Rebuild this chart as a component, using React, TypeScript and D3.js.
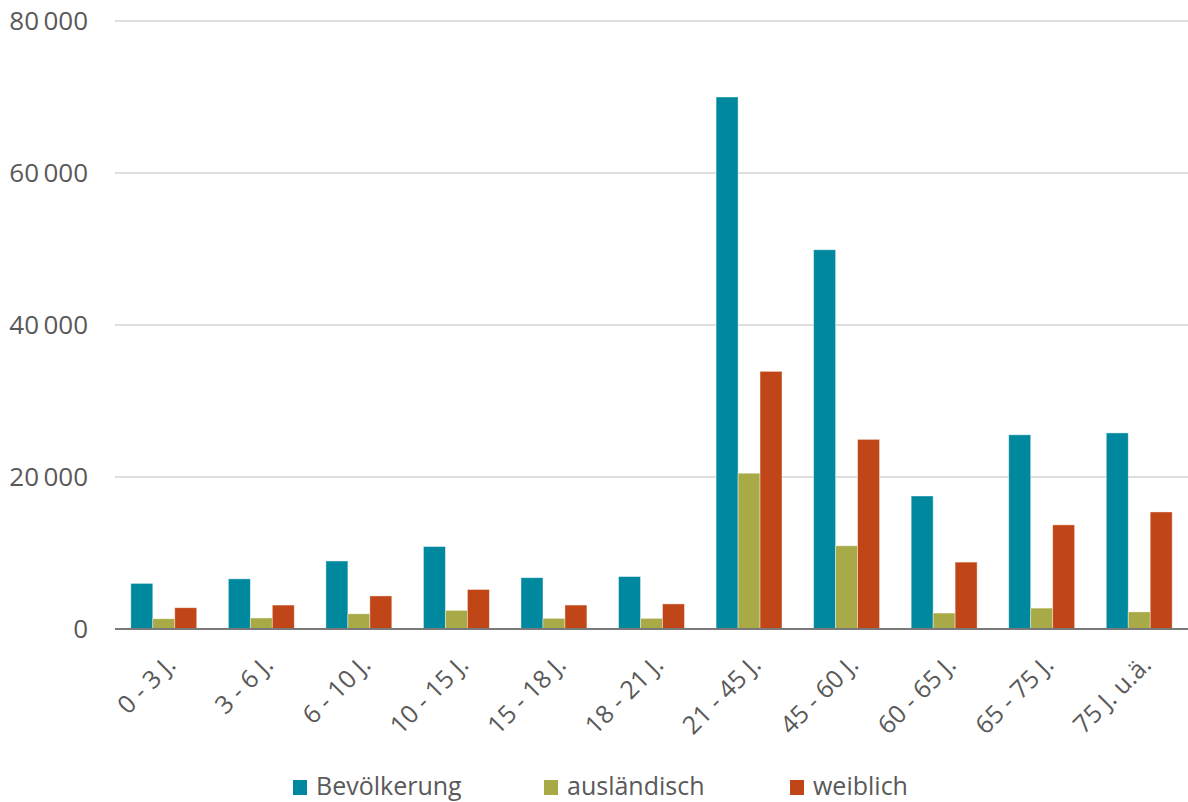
import React from "react";
import * as d3 from "d3";

const categories = ["0 - 3 J.", "3 - 6 J.", "6 - 10 J.", "10 - 15 J.", "15 - 18 J.", "18 - 21 J.", "21 - 45 J.", "45 - 60 J.", "60 - 65 J.", "65 - 75 J.", "75 J. u.ä."];
const seriesNames = ["Bevölkerung", "ausländisch", "weiblich"];
const bevoelkerung = [6000, 6600, 8950, 10850, 6750, 6900, 70000, 49900, 17500, 25550, 25800];
const auslaendisch = [1350, 1450, 2000, 2450, 1400, 1400, 20500, 10950, 2100, 2750, 2250];
const weiblich = [2800, 3150, 4350, 5200, 3150, 3300, 33900, 24950, 8800, 13700, 15400];
const yTicks = [0, 20000, 40000, 60000, 80000];
const colors = ["#00889f", "#a8aa48", "#c04618"];

export default function App() {
  const W = 1188, H = 802;
  const left = 115, right = 1188, top = 21, bottom = 629;
  const x = d3.scaleBand<string>().domain(categories).range([left, right]).paddingInner(0).paddingOuter(0);
  const xs = d3.scaleBand<string>().domain(seriesNames).range([0, x.bandwidth()]).paddingInner(0).paddingOuter(0.72);
  const y = d3.scaleLinear().domain([0, 80000]).range([bottom, top]);
  const data = [bevoelkerung, auslaendisch, weiblich];
  const fmt = (v: number) => d3.format(",")(v).replace(/,/g, "\u2009");
  const font = "'Open Sans', sans-serif";
  const gray = "#595959";
  const legendX = [293, 544, 790];
  return (
    <svg width={W} height={H} style={{ position: "absolute", left: 0, top: 0, background: "#fff" }} fontFamily={font}>
      {yTicks.map((t) => (
        <g key={t}>
          {t > 0 && <line x1={left} x2={right} y1={y(t)} y2={y(t)} stroke="#d4d4d4" strokeWidth={1.3} />}
          <text x={88} y={y(t)} dy="0.35em" textAnchor="end" fontSize={26} fill={gray}>{fmt(t)}</text>
        </g>
      ))}
      {categories.map((c, i) => (
        <g key={c} transform={`translate(${x(c)},0)`}>
          {seriesNames.map((s, k) => (
            <rect key={s} x={xs(s)} width={xs.bandwidth()} y={y(data[k][i])} height={y(0) - y(data[k][i])} fill={colors[k]} stroke="#fff" strokeOpacity={0.5} strokeWidth={0.8} />
          ))}
        </g>
      ))}
      <line x1={left} x2={right} y1={bottom} y2={bottom} stroke="#7a7a7a" strokeWidth={2} />
      {categories.map((c) => {
        const cx = (x(c) as number) + x.bandwidth() / 2 + 1;
        return (
          <text key={c} transform={`translate(${cx},${654}) rotate(-45)`} textAnchor="end" dy="0.7em" fontSize={25} fill={gray}>{c}</text>
        );
      })}
      {seriesNames.map((s, k) => (
        <g key={s}>
          <rect x={legendX[k]} y={780} width={14} height={15} fill={colors[k]} />
          <text x={legendX[k] + 23} y={795} fontSize={25} fill={gray}>{s}</text>
        </g>
      ))}
    </svg>
  );
}
